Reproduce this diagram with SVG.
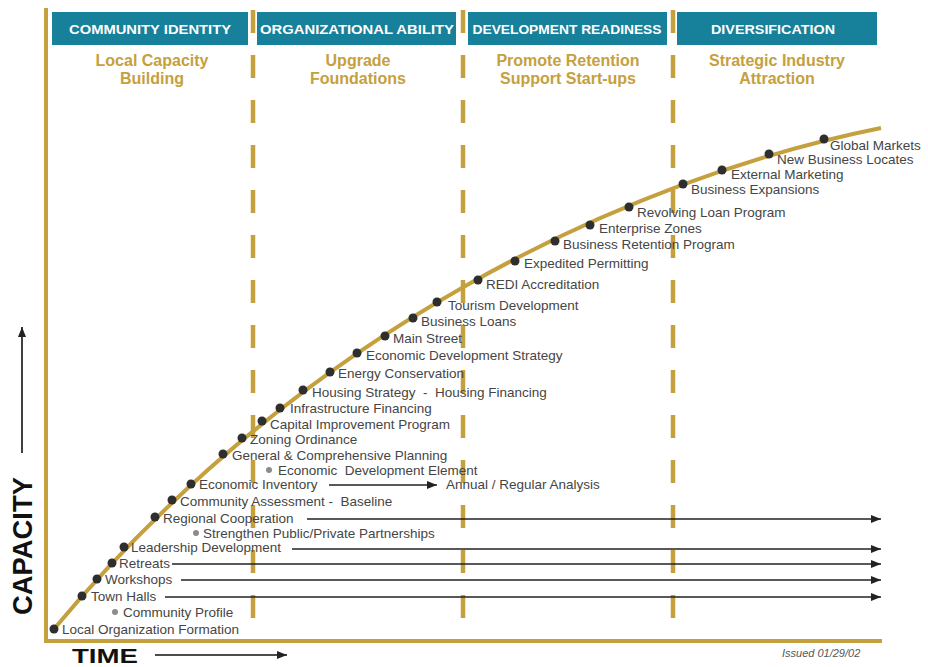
<svg xmlns="http://www.w3.org/2000/svg" width="928" height="667" viewBox="0 0 928 667">
<style>
.hdr{fill:#17809a}
.ht{font-family:"Liberation Sans",Arial,sans-serif;font-weight:bold;font-size:13.5px;fill:#ffffff;text-anchor:middle}
.st{font-family:"Liberation Sans",Arial,sans-serif;font-weight:bold;font-size:16px;fill:#c5a03e;text-anchor:middle}
.lb{font-family:"Liberation Sans",Arial,sans-serif;font-size:13.5px;fill:#454545;white-space:pre}
.dot{fill:#2e2e2e}
.gdot{fill:#8c8c8c}
.dash{stroke:#c5a03e;stroke-width:4.5;stroke-dasharray:23 22;fill:none}
.axis{stroke:#c5a03e;stroke-width:4;fill:none}
.arr{stroke:#222;stroke-width:1.5;fill:none;marker-end:url(#ah)}
.big{font-family:"Liberation Sans",Arial,sans-serif;font-weight:bold;fill:#111}
</style>
<defs>
<marker id="ah" markerUnits="userSpaceOnUse" markerWidth="10" markerHeight="8" refX="10" refY="4" orient="auto">
<path d="M0,0 L10,4 L0,8 z" fill="#222"/>
</marker>
</defs>
<rect width="928" height="667" fill="#ffffff"/>

<g id="phase-lines">
<line class="dash" x1="253" y1="10" x2="253" y2="622"/>
<line class="dash" x1="463" y1="10" x2="463" y2="622"/>
<line class="dash" x1="673" y1="10" x2="673" y2="622"/>
</g>

<g id="axes">
<line class="axis" x1="46" y1="8" x2="46" y2="641"/>
<line class="axis" x1="44" y1="641" x2="882" y2="641"/>
</g>

<g id="headers">
<g id="h-community">
<rect class="hdr" x="52" y="12" width="196" height="33"/>
<text class="ht" x="150" y="34" textLength="162" lengthAdjust="spacingAndGlyphs">COMMUNITY IDENTITY</text>
<text class="st" x="152" y="66">Local Capacity</text>
<text class="st" x="152" y="84">Building</text>
</g>
<g id="h-organizational">
<rect class="hdr" x="257" y="12" width="199" height="33"/>
<text class="ht" x="357" y="34" textLength="194" lengthAdjust="spacingAndGlyphs">ORGANIZATIONAL ABILITY</text>
<text class="st" x="358" y="66">Upgrade</text>
<text class="st" x="358" y="84">Foundations</text>
</g>
<g id="h-development">
<rect class="hdr" x="468" y="12" width="199" height="33"/>
<text class="ht" x="567" y="34" textLength="189" lengthAdjust="spacingAndGlyphs">DEVELOPMENT READINESS</text>
<text class="st" x="568" y="66">Promote Retention</text>
<text class="st" x="568" y="84">Support Start-ups</text>
</g>
<g id="h-diversification">
<rect class="hdr" x="677" y="12" width="200" height="33"/>
<text class="ht" x="773" y="34" textLength="124" lengthAdjust="spacingAndGlyphs">DIVERSIFICATION</text>
<text class="st" x="777" y="66">Strategic Industry</text>
<text class="st" x="777" y="84">Attraction</text>
</g>
</g>

<g id="curve">
<path class="axis" d="M54,629 C304,329 631,178 881,128"/>
</g>

<g id="connectors">
<line class="arr" x1="307" y1="519" x2="881" y2="519"/>
<line class="arr" x1="292" y1="549" x2="881" y2="549"/>
<line class="arr" x1="172" y1="564" x2="881" y2="564"/>
<line class="arr" x1="181" y1="580" x2="881" y2="580"/>
<line class="arr" x1="165" y1="597" x2="881" y2="597"/>
<line class="arr" x1="329" y1="485" x2="437" y2="485"/>
</g>

<g id="nodes">
<g id="n-local-org"><circle class="dot" cx="54" cy="629" r="4.5"/><text class="lb" x="62" y="634">Local Organization Formation</text></g>
<g id="n-community-profile"><circle class="gdot" cx="115" cy="612" r="3"/><text class="lb" x="123" y="617">Community Profile</text></g>
<g id="n-town-halls"><circle class="dot" cx="82" cy="596" r="4.5"/><text class="lb" x="91" y="601">Town Halls</text></g>
<g id="n-workshops"><circle class="dot" cx="97" cy="579" r="4.5"/><text class="lb" x="105" y="584">Workshops</text></g>
<g id="n-retreats"><circle class="dot" cx="112" cy="563" r="4.5"/><text class="lb" x="119" y="568">Retreats</text></g>
<g id="n-leadership"><circle class="dot" cx="124" cy="547" r="4.5"/><text class="lb" x="131" y="552">Leadership Development</text></g>
<g id="n-partnerships"><circle class="gdot" cx="196" cy="533" r="3"/><text class="lb" x="203" y="538">Strengthen Public/Private Partnerships</text></g>
<g id="n-regional"><circle class="dot" cx="155" cy="517" r="4.5"/><text class="lb" x="163" y="523">Regional Cooperation</text></g>
<g id="n-assessment"><circle class="dot" cx="172" cy="500" r="4.5"/><text class="lb" x="180" y="506">Community Assessment -  Baseline</text></g>
<g id="n-inventory"><circle class="dot" cx="191" cy="484" r="4.5"/><text class="lb" x="199" y="489">Economic Inventory</text></g>
<g id="n-annual"><text class="lb" x="446" y="489">Annual / Regular Analysis</text></g>
<g id="n-econ-element"><circle class="gdot" cx="269" cy="470" r="3"/><text class="lb" x="278" y="475">Economic  Development Element</text></g>
<g id="n-general-planning"><circle class="dot" cx="223" cy="454" r="4.5"/><text class="lb" x="232" y="460">General &amp; Comprehensive Planning</text></g>
<g id="n-zoning"><circle class="dot" cx="242" cy="438" r="4.5"/><text class="lb" x="250" y="444">Zoning Ordinance</text></g>
<g id="n-capital"><circle class="dot" cx="262" cy="421" r="4.5"/><text class="lb" x="270" y="429">Capital Improvement Program</text></g>
<g id="n-infrastructure"><circle class="dot" cx="280" cy="408" r="4.5"/><text class="lb" x="290" y="413">Infrastructure Financing</text></g>
<g id="n-housing"><circle class="dot" cx="303" cy="390" r="4.5"/><text class="lb" x="312" y="397">Housing Strategy  -  Housing Financing</text></g>
<g id="n-energy"><circle class="dot" cx="330" cy="372" r="4.5"/><text class="lb" x="338" y="378">Energy Conservation</text></g>
<g id="n-eds"><circle class="dot" cx="357" cy="353" r="4.5"/><text class="lb" x="366" y="360">Economic Development Strategy</text></g>
<g id="n-main-street"><circle class="dot" cx="385" cy="336" r="4.5"/><text class="lb" x="393" y="343">Main Street</text></g>
<g id="n-business-loans"><circle class="dot" cx="413" cy="318" r="4.5"/><text class="lb" x="421" y="326">Business Loans</text></g>
<g id="n-tourism"><circle class="dot" cx="437" cy="302" r="4.5"/><text class="lb" x="448" y="310">Tourism Development</text></g>
<g id="n-redi"><circle class="dot" cx="478" cy="280" r="4.5"/><text class="lb" x="486" y="289">REDI Accreditation</text></g>
<g id="n-expedited"><circle class="dot" cx="515" cy="261" r="4.5"/><text class="lb" x="524" y="268">Expedited Permitting</text></g>
<g id="n-retention"><circle class="dot" cx="555" cy="241" r="4.5"/><text class="lb" x="563" y="249">Business Retention Program</text></g>
<g id="n-enterprise"><circle class="dot" cx="590" cy="225" r="4.5"/><text class="lb" x="599" y="233">Enterprise Zones</text></g>
<g id="n-revolving"><circle class="dot" cx="629" cy="207" r="4.5"/><text class="lb" x="637" y="217">Revolving Loan Program</text></g>
<g id="n-expansions"><circle class="dot" cx="683" cy="184" r="4.5"/><text class="lb" x="691" y="194">Business Expansions</text></g>
<g id="n-external"><circle class="dot" cx="722" cy="170" r="4.5"/><text class="lb" x="731" y="179">External Marketing</text></g>
<g id="n-new-business"><circle class="dot" cx="769" cy="154" r="4.5"/><text class="lb" x="777" y="164">New Business Locates</text></g>
<g id="n-global"><circle class="dot" cx="824" cy="139" r="4.5"/><text class="lb" x="830" y="150">Global Markets</text></g>
</g>

<g id="axis-labels">
<text class="big" font-size="27" text-anchor="middle" transform="translate(32,546) rotate(-90)" textLength="138" lengthAdjust="spacingAndGlyphs">CAPACITY</text>
<line x1="22" y1="453" x2="22" y2="327" stroke="#111" stroke-width="1.6" marker-end="url(#ah)"/>
<text class="big" font-size="21" x="72" y="663" textLength="66" lengthAdjust="spacingAndGlyphs">TIME</text>
<line x1="155" y1="655" x2="287" y2="655" stroke="#111" stroke-width="1.6" marker-end="url(#ah)"/>
<text x="782" y="657" font-family="'Liberation Sans',Arial,sans-serif" font-style="italic" font-size="11" fill="#555">Issued 01/29/02</text>
</g>
</svg>
